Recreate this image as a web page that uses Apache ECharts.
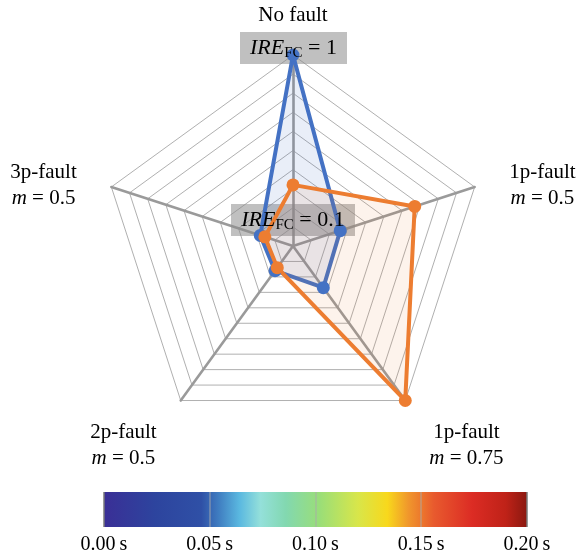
<!DOCTYPE html>
<html>
<head>
<meta charset="utf-8">
<script src="https://cdn.jsdelivr.net/npm/echarts@6/dist/echarts.min.js"></script>
<style>
  html, body { margin: 0; padding: 0; background: #fff; }
  #chart { width: 581px; height: 555px; }
</style>
</head>
<body>
<div id="chart"></div>
<script>
// Radar axes, in drawing order (counterclockwise from the top)
const faultTypes = ['No fault', '3p-fault', '2p-fault', '1p-fault', '1p-fault'];
const faultM = ['', '0.5', '0.5', '0.75', '0.5'];

// Normalised response on each axis for the two IRE_FC settings
const ireLevels = ['1', '0.1'];
const valuesIre1 = [1.0, 0.18, 0.16, 0.27, 0.26];
const valuesIre01 = [0.32, 0.155, 0.14, 1.0, 0.67];

// Colour bar: time range (s) and tick step
const timeRange = [0, 0.2];
const timeStep = 0.05;

const SERIF = 'Liberation Serif';

const indicatorNames = faultTypes.map((f, i) => faultM[i] ? f + ', m = ' + faultM[i] : f);

function nameFormatter(name) {
  const i = indicatorNames.indexOf(name);
  if (!faultM[i]) return '{top|' + faultTypes[i] + '}';
  const cls = (i === 1 || i === 4) ? 'side' : 'low';
  return '{' + cls + '|' + faultTypes[i] + '}\n{mi|m}{eq| = ' + faultM[i] + '}';
}

const ireRich = {
  i: { fontFamily: SERIF, fontStyle: 'italic', fontSize: 22, lineHeight: 26, color: '#000' },
  s: { fontFamily: SERIF, fontSize: 15, lineHeight: 14, verticalAlign: 'bottom', color: '#000' },
  n: { fontFamily: SERIF, fontSize: 22, lineHeight: 26, color: '#000' }
};
function ireText(level) {
  return '{i|IRE}{s|FC}{n| = ' + level + '}';
}

const chart = echarts.init(document.getElementById('chart'), null, { renderer: 'canvas' });

chart.setOption({
  animation: false,
  backgroundColor: '#fff',
  textStyle: { fontFamily: SERIF },
  radar: {
    center: [293, 246],
    radius: 191,
    startAngle: 90,
    splitNumber: 10,
    shape: 'polygon',
    axisNameGap: 29,
    indicator: indicatorNames.map(n => ({ name: n, min: 0, max: 1 })),
    axisName: {
      formatter: nameFormatter,
      color: '#000',
      fontFamily: SERIF,
      fontSize: 21,
      padding: [0, 7, 0, 7],
      rich: {
        top: { fontFamily: SERIF, fontSize: 21, color: '#000' },
        side: { fontFamily: SERIF, fontSize: 21, color: '#000', align: 'center', padding: [19, 0, 0, 0] },
        low: { fontFamily: SERIF, fontSize: 21, color: '#000', align: 'center', padding: [48, 0, 0, 0] },
        mi: { fontFamily: SERIF, fontStyle: 'italic', fontSize: 21, lineHeight: 31, color: '#000', align: 'center' },
        eq: { fontFamily: SERIF, fontSize: 21, lineHeight: 31, color: '#000', align: 'center' }
      }
    },
    axisLine: { lineStyle: { color: '#9a9a9a', width: 2.6 } },
    splitLine: { lineStyle: { color: '#b0b0b0', width: 1 } },
    splitArea: { show: false },
    axisTick: { show: false },
    axisLabel: { show: false }
  },
  grid: { left: 104, top: 492, width: 423, height: 35, show: false },
  xAxis: {
    type: 'value',
    min: timeRange[0],
    max: timeRange[1],
    interval: timeStep,
    z: 5,
    axisLine: { show: false },
    axisTick: { show: false },
    splitLine: {
      show: true,
      lineStyle: {
        color: ['#7a7a7a', 'rgba(170,170,170,0.6)', 'rgba(170,170,170,0.6)', 'rgba(170,170,170,0.6)', '#7a7a7a'],
        width: 1.5
      }
    },
    axisLabel: {
      formatter: v => v.toFixed(2) + '\u2009s',
      fontFamily: SERIF,
      fontSize: 20,
      color: '#000',
      margin: 8
    }
  },
  yAxis: { type: 'category', data: ['t'], show: false },
  graphic: [
    { type: 'rect', z: 1, shape: { x: 240, y: 32, width: 107, height: 32 }, style: { fill: 'rgba(140,140,140,0.55)' } },
    { type: 'text', z: 10, x: 293.5, y: 48, style: { text: ireText(ireLevels[0]), align: 'center', verticalAlign: 'middle', rich: ireRich } },
    { type: 'rect', z: 1, shape: { x: 231, y: 204, width: 124, height: 32 }, style: { fill: 'rgba(140,140,140,0.55)' } },
    { type: 'text', z: 10, x: 293, y: 220, style: { text: ireText(ireLevels[1]), align: 'center', verticalAlign: 'middle', rich: ireRich } }
  ],
  series: [
    {
      type: 'radar',
      z: 2,
      symbol: 'circle',
      symbolSize: 13,
      data: [
        {
          name: 'IRE_FC = ' + ireLevels[0],
          value: valuesIre1,
          lineStyle: { color: '#4472c4', width: 4 },
          itemStyle: { color: '#4472c4' },
          areaStyle: { color: 'rgba(68,114,196,0.17)' }
        },
        {
          name: 'IRE_FC = ' + ireLevels[1],
          value: valuesIre01,
          lineStyle: { color: '#ed7d31', width: 4 },
          itemStyle: { color: '#ed7d31' },
          areaStyle: { color: 'rgba(237,125,49,0.13)' }
        }
      ]
    },
    {
      type: 'bar',
      silent: true,
      barWidth: '100%',
      data: [timeRange[1]],
      itemStyle: {
        color: {
          type: 'linear', x: 0, y: 0, x2: 1, y2: 0,
          colorStops: [
            { offset: 0.00, color: '#3a2f96' },
            { offset: 0.12, color: '#2d449e' },
            { offset: 0.23, color: '#2f50a6' },
            { offset: 0.27, color: '#3f7cc0' },
            { offset: 0.32, color: '#5ab8e0' },
            { offset: 0.37, color: '#94e0da' },
            { offset: 0.43, color: '#82d8b0' },
            { offset: 0.51, color: '#9ade78' },
            { offset: 0.60, color: '#d8e64a' },
            { offset: 0.67, color: '#f8d81c' },
            { offset: 0.72, color: '#f0962c' },
            { offset: 0.78, color: '#e85a2e' },
            { offset: 0.87, color: '#dc2c24' },
            { offset: 0.95, color: '#bf2218' },
            { offset: 1.00, color: '#8a1810' }
          ]
        }
      }
    }
  ]
});
</script>
</body>
</html>
